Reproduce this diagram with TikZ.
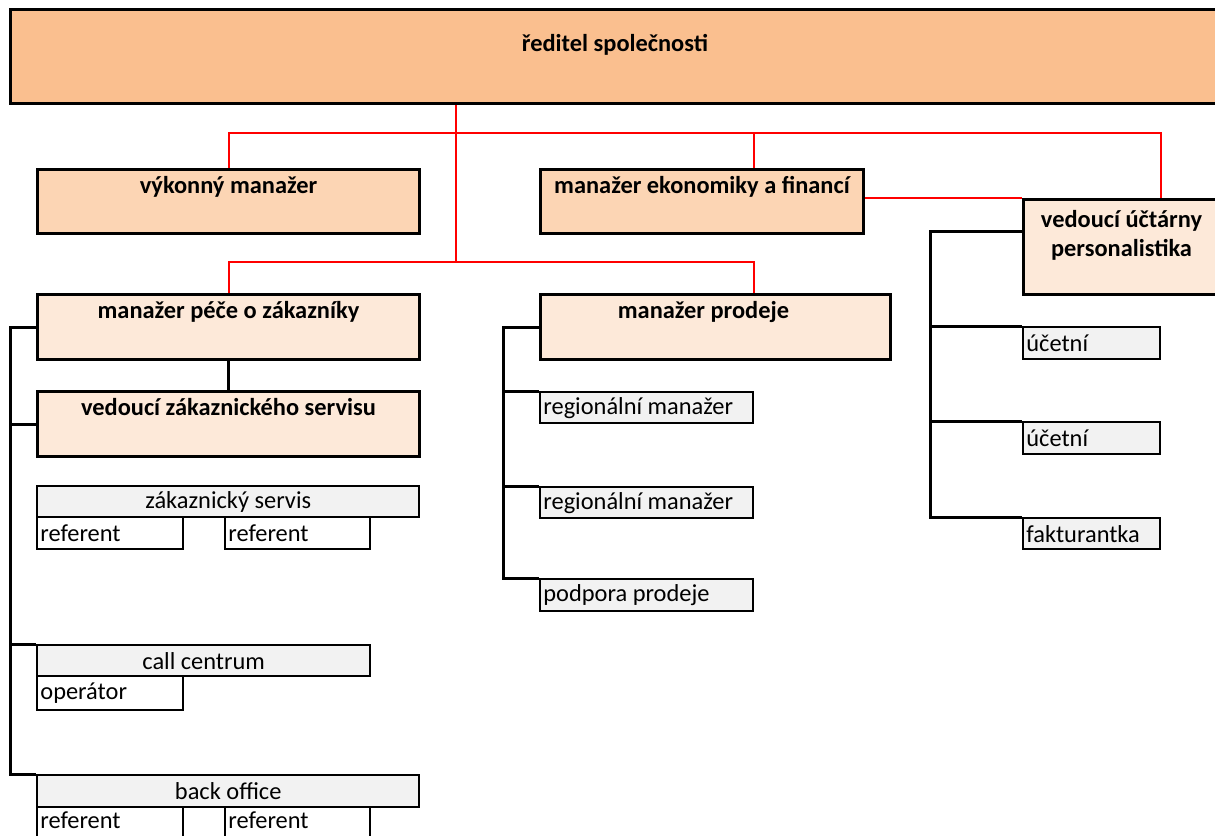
\documentclass[tikz,border=0pt]{standalone}
\usepackage{fontspec}
\setmainfont{Carlito}
\usepackage{xcolor}
\definecolor{bossfill}{RGB}{250,191,143}
\definecolor{midfill}{RGB}{252,213,180}
\definecolor{lightfill}{RGB}{253,233,217}
\definecolor{cellfill}{RGB}{242,242,242}
\definecolor{linkred}{RGB}{255,0,0}

\begin{document}
\begin{tikzpicture}[x=0.5pt,y=-0.5pt,
  every node/.style={font=\fontsize{12.2}{14.5}\selectfont},
  chief/.style={draw,line width=1.5pt,inner sep=0pt,anchor=north west},
  cell/.style={draw,line width=1.2pt,fill=cellfill,inner sep=0pt,anchor=north west},
  sub/.style={cell,fill=white},
  head/.style={anchor=north,inner sep=3pt,yshift=-1pt,font=\fontsize{12.2}{14.5}\selectfont\bfseries,align=center},
  txt/.style={anchor=west,inner sep=2pt},
  redlink/.style={draw=linkred,line width=1pt},
  blacklink/.style={draw,line width=1.5pt}]
  \useasboundingbox (0,0) rectangle (1215,835);

  % vedeni
  \node[chief,fill=bossfill,minimum width=604.5pt,minimum height=47pt,
    label={[head,yshift=-8.8pt]north:ředitel společnosti}] (boss) at (9,8) {};
  \node[chief,fill=midfill,minimum width=191pt,minimum height=32pt,
    label={[head]north:výkonný manažer}] (vyk) at (36,168) {};
  \node[chief,fill=midfill,minimum width=161.5pt,minimum height=32pt,
    label={[head]north:manažer ekonomiky a financí}] (mef) at (539,168) {};
  \node[chief,fill=lightfill,minimum width=98pt,minimum height=47.5pt,
    label={[head,yshift=-2pt]north:{vedoucí účtárny\\personalistika}}] (vup) at (1022,198) {};
  \node[chief,fill=lightfill,minimum width=191pt,minimum height=32.5pt,
    label={[head]north:manažer péče o zákazníky}] (mpz) at (36,293) {};
  \node[chief,fill=lightfill,minimum width=175pt,minimum height=32.5pt,
    label={[head,xshift=-6pt]north:manažer prodeje}] (mpr) at (539,293) {};
  \node[chief,fill=lightfill,minimum width=191pt,minimum height=32.5pt,
    label={[head]north:vedoucí zákaznického servisu}] (vzs) at (36,390) {};

  % zakaznicky servis
  \node[cell,minimum width=191pt,minimum height=15.5pt] (zs) at (36,485) {zákaznický servis};
  \node[sub,minimum width=73pt,minimum height=16pt,label={[txt]west:referent}] (zr1) at (36,516) {};
  \node[sub,minimum width=72.5pt,minimum height=16pt,label={[txt]west:referent}] (zr2) at (224,516) {};
  \node[cell,minimum width=166.5pt,minimum height=15.5pt] (cc) at (36,644) {call centrum};
  \node[sub,minimum width=73pt,minimum height=17pt,label={[txt]west:operátor}] (op) at (36,675) {};
  \node[cell,minimum width=191pt,minimum height=16pt] (bo) at (36,774) {back office};
  \node[sub,minimum width=73pt,minimum height=17pt,label={[txt,yshift=2pt]west:referent}] (br1) at (36,806) {};
  \node[sub,minimum width=72.5pt,minimum height=17pt,label={[txt,yshift=2pt]west:referent}] (br2) at (224,806) {};

  % prodej
  \node[cell,minimum width=106.5pt,minimum height=15.5pt,label={[txt]west:regionální manažer}] (rm1) at (539,391) {};
  \node[cell,minimum width=106.5pt,minimum height=15.5pt,label={[txt]west:regionální manažer}] (rm2) at (539,486) {};
  \node[cell,minimum width=106.5pt,minimum height=16pt,label={[txt]west:podpora prodeje}] (pp) at (539,578) {};

  % uctarna
  \node[cell,minimum width=68.5pt,minimum height=16pt,label={[txt]west:účetní}] (uc1) at (1022,326) {};
  \node[cell,minimum width=68.5pt,minimum height=16pt,label={[txt]west:účetní}] (uc2) at (1022,421) {};
  \node[cell,minimum width=68.5pt,minimum height=15.5pt,label={[txt]west:fakturantka}] (fa) at (1022,517) {};

  \coordinate (t1) at (456,133);
  \coordinate (t2) at (456,262);
  \draw[redlink] (boss.south -| t1) -- (t2);
  \draw[redlink] (vyk.north) |- (t1) -| (mef.north -| rm1.east);
  \draw[redlink] (t1) -| (vup.north -| uc1.east);
  \draw[redlink] (mef.east |- vup.north) -- (vup.north west);
  \draw[redlink] (mpz.north) |- (t2) -| (mpr.north -| rm1.east);

  \coordinate (ls) at (10,0);
  \coordinate (ms) at (503,0);
  \coordinate (rs) at (930,231);
  \draw[blacklink] (mpz.south) -- (vzs.north);
  \draw[blacklink] (mpz.west) -- (mpz.west -| ls) |- (bo.north west);
  \draw[blacklink] (vzs.west) -- (vzs.west -| ls);
  \draw[blacklink] (cc.north west) -- (cc.north west -| ls);
  \draw[blacklink] (mpr.west) -- (mpr.west -| ms) |- (pp.north west);
  \draw[blacklink] (rm1.north west) -- (rm1.north west -| ms);
  \draw[blacklink] (rm2.north west) -- (rm2.north west -| ms);
  \draw[blacklink] (rs -| vup.west) -- (rs) |- (fa.north west);
  \draw[blacklink] (uc1.north west) -- (uc1.north west -| rs);
  \draw[blacklink] (uc2.north west) -- (uc2.north west -| rs);
\end{tikzpicture}
\end{document}
